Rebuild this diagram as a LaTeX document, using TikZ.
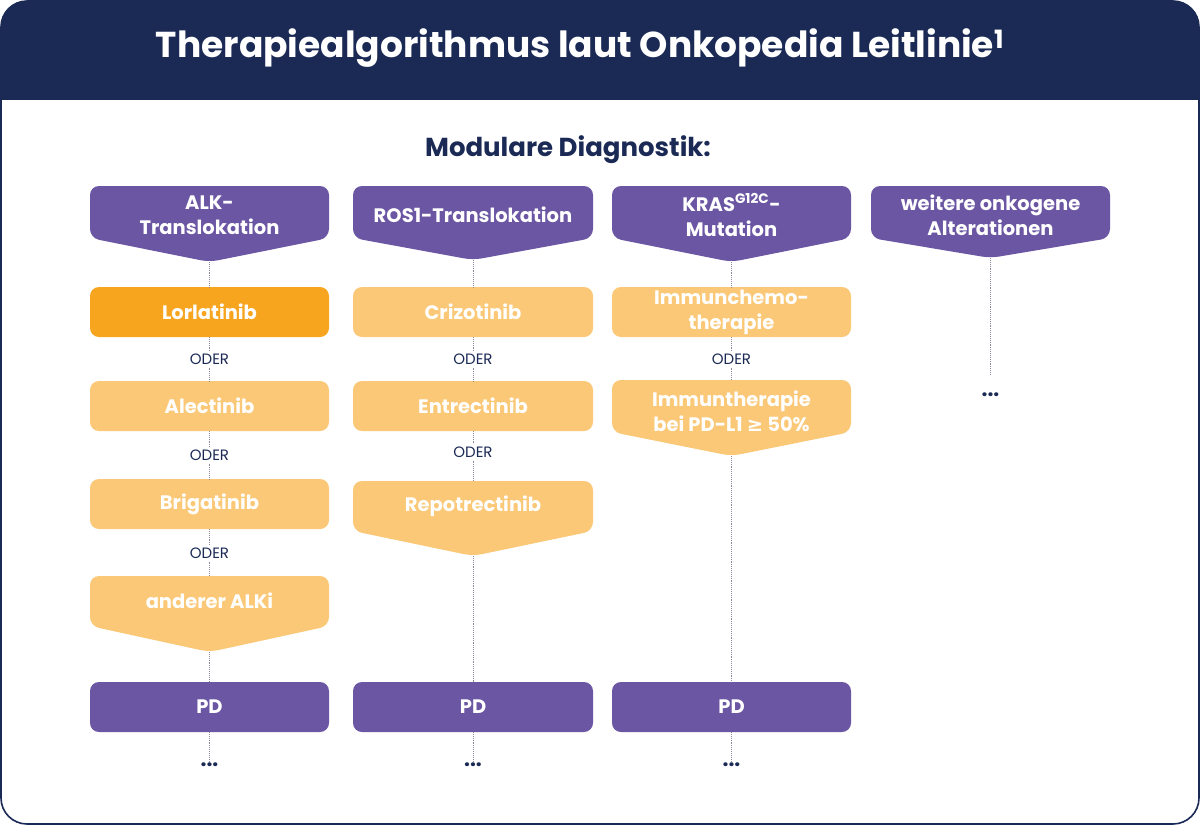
\documentclass[tikz,border=0pt]{standalone}
\usepackage{fontspec}
\setmainfont{Poppins}
\newfontfamily\symfont{DejaVu Sans}
\definecolor{navy}{HTML}{1B2A55}
\definecolor{purp}{HTML}{6B56A3}
\definecolor{orng}{HTML}{F7A51E}
\definecolor{lorng}{HTML}{FAC876}
\definecolor{dotc}{HTML}{8A8A9A}
\newcommand{\pbox}[7]{% name, x1,y1,x2,y2,ypoint(or y2),color
  \fill[#7,rounded corners=9pt] (#2,#3) -- (#4,#3) -- (#4,#5) -- ({(#2+#4)/2},#6) -- (#2,#5) -- cycle;
  \coordinate (#1-t) at ({(#2+#4)/2},#3);
  \coordinate (#1-b) at ({(#2+#4)/2},#6);
}
\begin{document}
\begin{tikzpicture}[x=1pt,y=-1pt,
  btxt/.style={text=white,font=\fontsize{19.5}{25}\selectfont\bfseries,align=center},
  oder/.style={text=navy,font=\fontsize{15}{16}\selectfont,inner sep=3pt},
  dl/.style={draw=dotc,densely dotted,line width=0.9pt},
  ell/.style={text=navy,font=\fontsize{21}{21}\selectfont\bfseries,inner sep=1pt}]
\useasboundingbox (0,0) rectangle (1200,825);
\fill[white] (0,0) rectangle (1200,825);
\begin{scope}
\clip[rounded corners=26pt] (1,1) rectangle (1199,824);
\fill[navy] (0,0) rectangle (1200,100);
\end{scope}
\draw[navy,line width=1.6pt,rounded corners=26pt] (1,1) rectangle (1199,824);
\node[text=white,font=\fontsize{36}{40}\selectfont\bfseries] (title) at (580,48) {Therapiealgorithmus laut Onkopedia Leitlinie\textsuperscript{1}};
\node[text=navy,font=\fontsize{26}{28}\selectfont\bfseries] (head) at (568,150) {Modulare Diagnostik:};
% column 1
\pbox{h1}{90}{186}{329}{238}{262}{purp}
\node[btxt] (h1n) at (209.5,215) {ALK-\\Translokation};
\pbox{a1}{90}{287}{329}{337}{337}{orng}
\node[btxt] (a1n) at (209.5,312) {Lorlatinib};
\pbox{a2}{90}{381}{329}{431}{431}{lorng}
\node[btxt] (a2n) at (209.5,406) {Alectinib};
\pbox{a3}{90}{479}{329}{529}{529}{lorng}
\node[btxt] (a3n) at (209.5,504) {Brigatinib};
\pbox{a4}{90}{576}{329}{626}{652}{lorng}
\node[btxt] (a4n) at (209.5,601) {anderer ALKi};
\pbox{p1}{90}{682}{329}{732}{732}{purp}
\node[btxt] (p1n) at (209.5,707) {PD};
\node[oder] (o11) at (209.5,359) {ODER};
\node[oder] (o12) at (209.5,455) {ODER};
\node[oder] (o13) at (209.5,553) {ODER};
\node[ell] (e1) at (209.5,765) {...};
\draw[dl] (h1-b) -- (a1-t); \draw[dl] (a1-b) -- (o11); \draw[dl] (o11) -- (a2-t);
\draw[dl] (a2-b) -- (o12); \draw[dl] (o12) -- (a3-t);
\draw[dl] (a3-b) -- (o13); \draw[dl] (o13) -- (a4-t);
\draw[dl] (a4-b) -- (p1-t); \draw[dl] (p1-b) -- (e1);
% column 2
\pbox{h2}{353}{186}{593}{238}{260}{purp}
\node[btxt] (h2n) at (473,215) {ROS1-Translokation};
\pbox{b1}{353}{287}{593}{337}{337}{lorng}
\node[btxt] (b1n) at (473,312) {Crizotinib};
\pbox{b2}{353}{381}{593}{431}{431}{lorng}
\node[btxt] (b2n) at (473,406) {Entrectinib};
\pbox{b3}{353}{481}{593}{531}{556}{lorng}
\node[btxt] (b3n) at (473,506) {Repotrectinib};
\pbox{p2}{353}{682}{593}{732}{732}{purp}
\node[btxt] (p2n) at (473,707) {PD};
\node[oder] (o21) at (473,359) {ODER};
\node[oder] (o22) at (473,452) {ODER};
\node[ell] (e2) at (473,765) {...};
\draw[dl] (h2-b) -- (b1-t); \draw[dl] (b1-b) -- (o21); \draw[dl] (o21) -- (b2-t);
\draw[dl] (b2-b) -- (o22); \draw[dl] (o22) -- (b3-t);
\draw[dl] (b3-b) -- (p2-t); \draw[dl] (p2-b) -- (e2);
% column 3
\pbox{h3}{612}{186}{851}{238}{262}{purp}
\node[btxt] (h3n) at (731.5,215) {KRAS\textsuperscript{G12C}-\\Mutation};
\pbox{c1}{612}{287}{851}{337}{337}{lorng}
\node[btxt] (c1n) at (731.5,312) {Immunchemo-\\therapie};
\pbox{c2}{612}{380}{851}{432}{456}{lorng}
\node[btxt] (c2n) at (731.5,411) {Immuntherapie\\bei PD-L1 {\symfont ≥} 50\%};
\pbox{p3}{612}{682}{851}{732}{732}{purp}
\node[btxt] (p3n) at (731.5,707) {PD};
\node[oder] (o31) at (731.5,359) {ODER};
\node[ell] (e3) at (731.5,765) {...};
\draw[dl] (h3-b) -- (c1-t); \draw[dl] (c1-b) -- (o31); \draw[dl] (o31) -- (c2-t);
\draw[dl] (c2-b) -- (p3-t); \draw[dl] (p3-b) -- (e3);
% column 4
\pbox{h4}{871}{186}{1110}{238}{258}{purp}
\node[btxt] (h4n) at (990.5,215) {weitere onkogene\\Alterationen};
\node[ell] (e4) at (990.5,395) {...};
\coordinate (e4t) at (990.5,375);
\draw[dl] (h4-b) -- (e4t);
\end{tikzpicture}
\end{document}
